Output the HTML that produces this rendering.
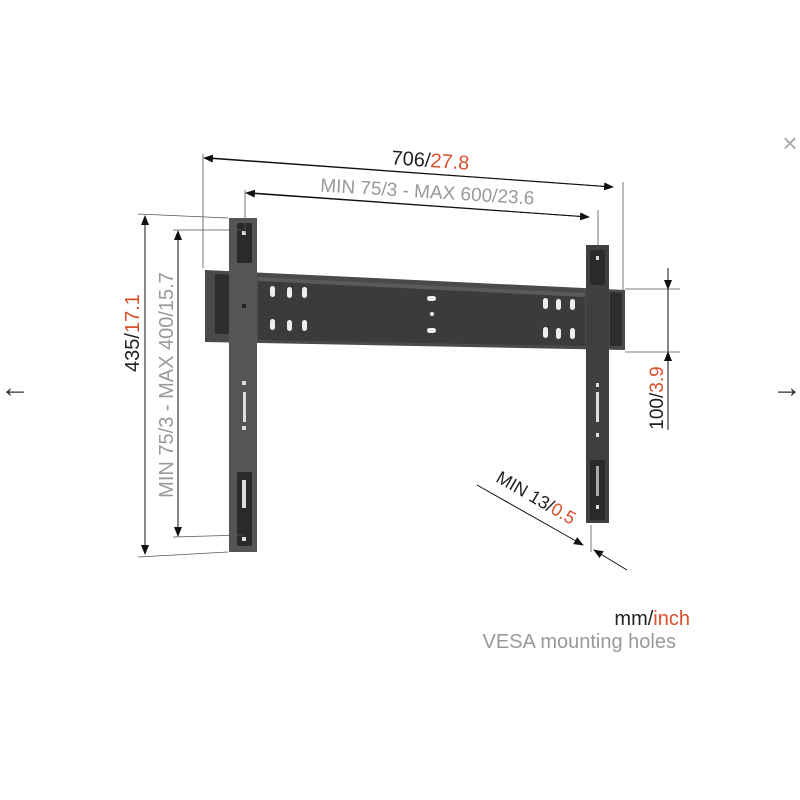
<!DOCTYPE html>
<html><head><style>
html,body{margin:0;padding:0;background:#fff;width:800px;height:800px;overflow:hidden}
svg{display:block;font-family:"Liberation Sans",sans-serif}
</style></head><body>
<svg width="800" height="800" viewBox="0 0 800 800" xmlns="http://www.w3.org/2000/svg">
<defs>
<marker id="a" markerWidth="10" markerHeight="8" refX="9" refY="4" orient="auto" markerUnits="userSpaceOnUse">
<path d="M0,0 L10,4 L0,8 z" fill="#111"/></marker>
</defs>
<path d="M205,270 L625,290 L625,350 L205,342 Z" fill="#4a4a4c"/>
<path d="M215,274 L255,276 L255,334 L215,334 Z" fill="#2e2e30"/>
<path d="M258,277 L585,293 L585,346 L258,340 Z" fill="#3b3b3d"/>
<path d="M258,277 L585,293 L585,297 L258,281 Z" fill="#5a5a5c"/>
<path d="M610,292 L622,293 L622,346 L610,346 Z" fill="#2e2e30"/>
<g fill="#eee">
<rect x="270" y="286" width="5" height="11" rx="2.5"/><rect x="287" y="287" width="5" height="11" rx="2.5"/><rect x="302" y="287" width="5" height="11" rx="2.5"/>
<rect x="270" y="319" width="5" height="11" rx="2.5"/><rect x="287" y="320" width="5" height="11" rx="2.5"/><rect x="302" y="320" width="5" height="11" rx="2.5"/>
<rect x="543" y="298" width="5" height="11" rx="2.5"/><rect x="556" y="299" width="5" height="11" rx="2.5"/><rect x="570" y="299" width="5" height="11" rx="2.5"/>
<rect x="543" y="327" width="5" height="11" rx="2.5"/><rect x="556" y="328" width="5" height="11" rx="2.5"/><rect x="570" y="328" width="5" height="11" rx="2.5"/>
<rect x="427" y="296" width="9" height="5" rx="2.5"/><rect x="427" y="328" width="9" height="5" rx="2.5"/><circle cx="432" cy="314" r="2"/>
</g>
<rect x="229" y="218" width="28" height="334" fill="#555557"/>
<rect x="237" y="223" width="15" height="40" rx="2" fill="#2a2a2c"/>
<rect x="237" y="472" width="15" height="74" rx="2" fill="#2a2a2c"/>
<rect x="242" y="231" width="4" height="4" fill="#ddd"/>
<rect x="242" y="537" width="4" height="4" fill="#ddd"/>
<rect x="242" y="480" width="4" height="28" fill="#ddd"/>
<rect x="242" y="381" width="4" height="4" fill="#ddd"/>
<rect x="243" y="392" width="3" height="30" fill="#ddd"/>
<rect x="242" y="426" width="4" height="4" fill="#ddd"/>
<rect x="242" y="304" width="4" height="4" fill="#222"/>
<rect x="586" y="245" width="23" height="278" fill="#3f3f41"/>
<rect x="590" y="250" width="15" height="35" rx="2" fill="#2a2a2c"/>
<rect x="590" y="460" width="15" height="60" rx="2" fill="#2a2a2c"/>
<rect x="596" y="256" width="3" height="4" fill="#ddd"/>
<rect x="596" y="505" width="3" height="4" fill="#ddd"/>
<rect x="596" y="466" width="3" height="30" fill="#aaa"/>
<rect x="596" y="383" width="3" height="4" fill="#ddd"/>
<rect x="596" y="392" width="3" height="30" fill="#ddd"/>
<rect x="596" y="433" width="3" height="4" fill="#ddd"/>
<g stroke="#555" stroke-width="0.8" fill="none">
<line x1="203" y1="154" x2="203" y2="268"/>
<line x1="623" y1="182" x2="623" y2="290"/>
<line x1="245" y1="190" x2="245" y2="233"/>
<line x1="598" y1="210" x2="598" y2="250"/>
<line x1="138" y1="214" x2="228" y2="218"/>
<line x1="173" y1="230" x2="243" y2="230"/>
<line x1="173" y1="537" x2="243" y2="535"/>
<line x1="138" y1="557" x2="228" y2="552"/>
<line x1="625" y1="289" x2="680" y2="289"/>
<line x1="625" y1="352" x2="680" y2="352"/>
<line x1="591" y1="525" x2="591" y2="552"/>
</g>
<g stroke="#111" stroke-width="1" fill="none">
<line x1="212" y1="158" x2="613" y2="187" marker-end="url(#a)"/>
<line x1="612" y1="187" x2="204" y2="158" marker-end="url(#a)"/>
<line x1="254" y1="193" x2="589" y2="217" marker-end="url(#a)"/>
<line x1="588" y1="217" x2="246" y2="193" marker-end="url(#a)"/>
<line x1="145" y1="224" x2="145" y2="554" marker-end="url(#a)"/>
<line x1="145" y1="546" x2="145" y2="216" marker-end="url(#a)"/>
<line x1="178" y1="239" x2="178" y2="536" marker-end="url(#a)"/>
<line x1="178" y1="528" x2="178" y2="231" marker-end="url(#a)"/>
<line x1="668" y1="268" x2="668" y2="289" marker-end="url(#a)"/>
<line x1="668" y1="430" x2="668" y2="352" marker-end="url(#a)"/>
<line x1="668" y1="289" x2="668" y2="352"/>
<line x1="477" y1="485" x2="583" y2="545" marker-end="url(#a)"/>
<line x1="627" y1="570" x2="594" y2="550" marker-end="url(#a)"/>
</g>
<text x="430" y="167" font-size="20" text-anchor="middle" fill="#222" transform="rotate(4 430 167)">706/<tspan fill="#d9502a">27.8</tspan></text>
<text x="427" y="198" font-size="19" text-anchor="middle" fill="#999" transform="rotate(3.5 427 198)">MIN 75/3 - MAX 600/23.6</text>
<text x="0" y="0" font-size="20" text-anchor="middle" fill="#222" transform="translate(139 333) rotate(-90)">435/<tspan fill="#d9502a">17.1</tspan></text>
<text x="0" y="0" font-size="20" text-anchor="middle" fill="#999" transform="translate(173 385) rotate(-90)">MIN 75/3 - MAX 400/15.7</text>
<text x="0" y="0" font-size="19" text-anchor="middle" fill="#222" transform="translate(663 398) rotate(-90)">100/<tspan fill="#d9502a">3.9</tspan></text>
<text x="0" y="0" font-size="18" text-anchor="middle" fill="#222" transform="translate(533 503) rotate(30)">MIN 13/<tspan fill="#d9502a">0.5</tspan></text>
<text x="690" y="625" font-size="20" text-anchor="end" fill="#222">mm/<tspan fill="#d9502a">inch</tspan></text>
<text x="676" y="648" font-size="20" text-anchor="end" fill="#999">VESA mounting holes</text>
<text x="15" y="397" font-size="30" text-anchor="middle" fill="#333">←</text>
<text x="787" y="397" font-size="30" text-anchor="middle" fill="#333">→</text>
<text x="790" y="152" font-size="26" text-anchor="middle" fill="#aaa">×</text>
</svg>
</body></html>
